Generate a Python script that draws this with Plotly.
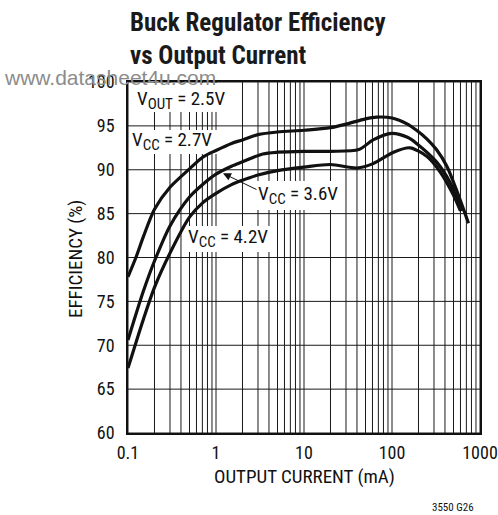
import math
import plotly.graph_objects as go

# Efficiency curves, output current in mA vs efficiency in %
vcc27_current = [0.1, 0.123, 0.15, 0.2, 0.3, 0.5, 0.7, 1, 1.5, 2, 3, 5, 10, 20, 30,
                 50, 67, 100, 150, 190, 250, 320, 420, 540, 740]
vcc27_eff = [77.8, 80.0, 82.4, 85.5, 88.0, 90.1, 91.4, 92.2, 93.0, 93.4, 94.0, 94.3,
             94.5, 94.8, 95.2, 95.8, 96.0, 95.9, 95.2, 94.5, 93.5, 92.3, 90.4, 87.7, 83.9]

vcc36_current = [0.1, 0.15, 0.2, 0.3, 0.5, 0.7, 1, 1.5, 2, 3.4, 5, 10, 20, 42, 61,
                 99, 150, 190, 320, 460, 620]
vcc36_eff = [70.6, 76.2, 79.6, 83.6, 86.9, 88.3, 89.5, 90.4, 90.9, 91.8, 92.0, 92.1,
             92.1, 92.3, 93.4, 94.15, 93.7, 93.0, 90.9, 88.5, 85.3]

vcc42_current = [0.1, 0.15, 0.2, 0.3, 0.5, 0.7, 1, 1.5, 2, 3, 5, 10, 20, 40, 61,
                 104, 160, 250, 350, 500, 600]
vcc42_eff = [67.4, 73.0, 76.6, 80.5, 84.6, 86.2, 87.3, 88.3, 88.8, 89.4, 89.9, 90.3,
             90.6, 90.2, 90.7, 92.0, 92.5, 91.5, 89.8, 87.1, 85.3]

x_tickvals = [0.1, 1, 10, 100, 1000]
x_ticktext = ["0.1", "1", "10", "100", "1000"]
y_tickvals = [60, 65, 70, 75, 80, 85, 90, 95, 100]

FONT = "Liberation Sans Narrow, Roboto Condensed, Arial Narrow, sans-serif"
INK = "#111111"
GRID = "#1a1a1a"

# plot area in pixels
L, R, T, B = 128, 480, 82, 433
W, H = R - L, B - T


def px(xp):
    return (xp - L) / W


def py(yp):
    return (B - yp) / H


fig = go.Figure()
for xs, ys in [(vcc27_current, vcc27_eff), (vcc36_current, vcc36_eff),
               (vcc42_current, vcc42_eff)]:
    fig.add_trace(go.Scatter(x=xs, y=ys, mode="lines",
                             line=dict(color=INK, width=3.2, shape="spline", smoothing=0.8),
                             showlegend=False, hoverinfo="skip"))

shapes = []
# log grid: every 1..9 multiple of each decade, drawn under the curves
grid_x = []
for d in x_tickvals[:-1]:
    grid_x += [m * d for m in range(1, 10)]
grid_x.append(x_tickvals[-1])
for gx in grid_x:
    shapes.append(dict(type="line", xref="x", yref="y domain", x0=gx, x1=gx, y0=0, y1=1,
                       line=dict(color=GRID, width=1), layer="below"))
for gy in y_tickvals:
    shapes.append(dict(type="line", xref="x domain", yref="y", x0=0, x1=1, y0=gy, y1=gy,
                       line=dict(color=GRID, width=1), layer="below"))

# white panels behind the curve labels (over the grid, under the curves)
boxes = [(129, 238, 83, 112), (129, 217, 130, 154), (254, 342, 181, 210), (184, 271, 226, 252)]
for x0, x1, y0, y1 in boxes:
    shapes.append(dict(type="rect", xref="x domain", yref="y domain",
                       x0=px(x0), x1=px(x1), y0=py(y1), y1=py(y0),
                       fillcolor="white", line=dict(width=0), layer="below"))

SUB = "<sub><span style='font-size:15px'>{}</span></sub>"
ann = []
labels = [("V" + SUB.format("OUT") + " = 2.5V", 181, 100),
          ("V" + SUB.format("CC") + " = 2.7V", 172, 141),
          ("V" + SUB.format("CC") + " = 3.6V", 298, 195),
          ("V" + SUB.format("CC") + " = 4.2V", 228, 238)]
for txt, cx, cy in labels:
    ann.append(dict(text=txt, x=px(cx), y=py(cy), xref="paper", yref="paper",
                    showarrow=False, font=dict(family=FONT, size=19, color=INK),
                    xanchor="center", yanchor="middle"))

# pointer to the 3.6V curve (log axis: x given as log10)
ann.append(dict(text="", x=math.log10(1.2), y=89.6, xref="x", yref="y", ax=35, ay=17,
                showarrow=True, arrowhead=2, arrowsize=1.6, arrowwidth=1, arrowcolor=INK))

ann.append(dict(text="<b>Buck Regulator Efficiency<br>vs Output Current</b>",
                x=px(128), y=py(6), xref="paper", yref="paper", showarrow=False,
                xanchor="left", yanchor="top", align="left",
                font=dict(family=FONT, size=25, color="#1a1a1a")))
ann.append(dict(text="www.datasheet4u.com", x=px(2), y=py(78), xref="paper", yref="paper",
                showarrow=False, xanchor="left", yanchor="middle",
                font=dict(family="Liberation Sans, Arial, sans-serif", size=21, color="#8c8c8c")))
ann.append(dict(text="EFFICIENCY (%)", x=px(75), y=py(259), xref="paper", yref="paper",
                showarrow=False, textangle=-90, xanchor="center", yanchor="middle",
                font=dict(family=FONT, size=19, color=INK)))
ann.append(dict(text="OUTPUT CURRENT (mA)", x=px(304), y=py(476), xref="paper", yref="paper",
                showarrow=False, xanchor="center", yanchor="middle",
                font=dict(family=FONT, size=19, color=INK)))
ann.append(dict(text="3550 G26", x=px(476), y=py(507), xref="paper", yref="paper",
                showarrow=False, xanchor="right", yanchor="middle",
                font=dict(family=FONT, size=11, color=INK)))

fig.update_layout(
    width=498, height=515,
    margin=dict(l=L, r=498 - R, t=T, b=515 - B, autoexpand=False),
    paper_bgcolor="white", plot_bgcolor="white",
    shapes=shapes, annotations=ann,
    xaxis=dict(type="log", range=[-1, 3], tickvals=x_tickvals, ticktext=x_ticktext,
               showgrid=False, automargin=False,
               showline=True, linecolor=INK, linewidth=1.5, mirror=True,
               ticks="", ticklabelstandoff=3, zeroline=False,
               tickfont=dict(family=FONT, size=18, color=INK)),
    yaxis=dict(range=[60, 100], tickvals=y_tickvals, showgrid=False, automargin=False,
               showline=True, linecolor=INK, linewidth=1.5, mirror=True,
               ticks="", ticklabelstandoff=8, zeroline=False,
               tickfont=dict(family=FONT, size=18, color=INK)),
)

fig.write_html("out.html")
